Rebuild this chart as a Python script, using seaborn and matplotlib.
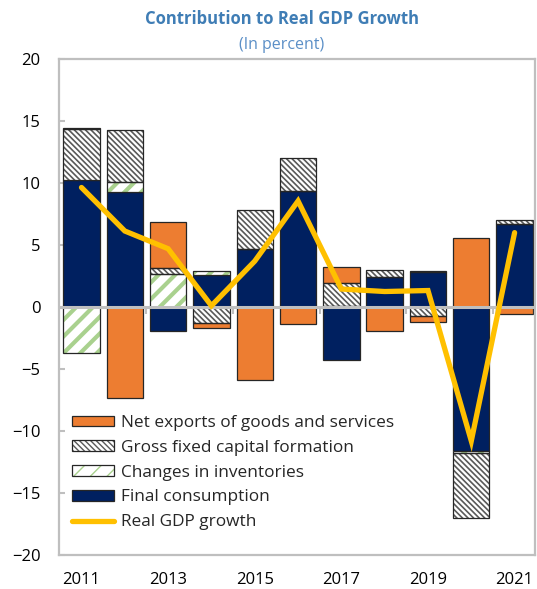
import numpy as np
import matplotlib
matplotlib.use("Agg")
import matplotlib.pyplot as plt
from matplotlib.patches import Patch
from matplotlib.lines import Line2D
import seaborn as sns

# Contributions to real GDP growth, percentage points
years = ["2011", "2012", "2013", "2014", "2015", "2016", "2017", "2018", "2019", "2020", "2021"]
final_consumption = [10.26, 9.29, -1.97, 2.55, 4.70, 9.37, -4.29, 2.40, 2.81, -11.65, 6.72]
inventories = [-3.69, 0.78, 2.67, 0.35, 0.00, 0.00, 0.10, 0.00, 0.08, -0.10, 0.00]
gfcf = [4.10, 4.24, 0.44, -1.30, 3.10, 2.61, 1.82, 0.60, -0.70, -5.25, 0.32]
net_exports = [0.08, -7.31, 3.77, -0.42, -5.91, -1.35, 1.32, -1.97, -0.48, 5.59, -0.60]
real_gdp_growth = [9.64, 6.13, 4.70, 0.10, 3.70, 8.55, 1.45, 1.25, 1.33, -10.80, 6.00]
tick_years = ["2011", "2013", "2015", "2017", "2019", "2021"]

NAVY = "#002060"
ORANGE = "#ED7D31"
GREEN = "#A9D18E"
HATCH_GRAY = "#595959"
GOLD = "#FFC000"
EDGE = "#262626"
FRAME = "#BFBFBF"
TITLE_BLUE = "#3F7DB5"

GFCF_HATCH = "\\" * 6
INV_HATCH = "//"

sns.set_theme(style="white")
plt.rcParams["font.family"] = ["Open Sans", "DejaVu Sans"]

fig = plt.figure(figsize=(5.37, 5.89), dpi=100)
ax = fig.add_axes([0.109, 0.0577, 0.8864, 0.8421])

n = len(years)
pos_base = np.zeros(n)
neg_base = np.zeros(n)

components = [
    ("Final consumption", final_consumption,
     dict(face=NAVY, hatch=None, hcol=EDGE, hlw=1.0)),
    ("Changes in inventories", inventories,
     dict(face="white", hatch=INV_HATCH, hcol=GREEN, hlw=3.0)),
    ("Gross fixed capital formation", gfcf,
     dict(face="white", hatch=GFCF_HATCH, hcol=HATCH_GRAY, hlw=1.2)),
    ("Net exports of goods and services", net_exports,
     dict(face=ORANGE, hatch=None, hcol=EDGE, hlw=1.0)),
]

BAR_W = 0.84
for name, vals, st in components:
    v = np.asarray(vals, dtype=float)
    bottom = np.where(v >= 0, pos_base, neg_base)
    with plt.rc_context({"hatch.linewidth": st["hlw"], "hatch.color": st["hcol"]}):
        sns.barplot(x=years, y=v, bottom=bottom, width=BAR_W, color=st["face"],
                    errorbar=None, ax=ax, zorder=2)
        for b in ax.containers[-1]:
            b.set_facecolor(st["face"])
            if st["hatch"]:
                b.set_hatch(st["hatch"])
                b.set_edgecolor(st["hcol"])
                b.set_linewidth(0)
                if hasattr(b, "set_hatch_linewidth"):
                    b.set_hatch_linewidth(st["hlw"])
            else:
                b.set_edgecolor(EDGE)
                b.set_linewidth(0.9)
    if st["hatch"]:
        # dark outline over the hatched fill
        sns.barplot(x=years, y=v, bottom=bottom, width=BAR_W, fill=False,
                    color=EDGE, errorbar=None, ax=ax, zorder=2.1)
        for b in ax.containers[-1]:
            b.set_facecolor("none")
            b.set_edgecolor(EDGE)
            b.set_linewidth(0.9)
    pos_base = pos_base + np.where(v >= 0, v, 0)
    neg_base = neg_base + np.where(v < 0, v, 0)

# Zero line over the bars
ax.axhline(0, color=FRAME, linewidth=2.2, zorder=3)

# Real GDP growth line
sns.lineplot(x=np.arange(n), y=real_gdp_growth, color=GOLD, linewidth=3.8,
             solid_capstyle="round", solid_joinstyle="miter", sort=False,
             legend=False, ax=ax, zorder=4)

ax.set_xlim(-0.53, 10.46)
ax.set_ylim(-20, 20)
ax.set_yticks(np.arange(-20, 21, 5))
ax.set_xticks([years.index(y) for y in tick_years])
ax.set_xticklabels(tick_years)
ax.set_xlabel("")
ax.set_ylabel("")

for side in ["left", "right", "top", "bottom"]:
    ax.spines[side].set_visible(True)
    ax.spines[side].set_color(FRAME)
    ax.spines[side].set_linewidth(1.6)

ax.tick_params(axis="y", direction="in", length=4, width=1.5, color=FRAME,
               left=True, pad=13, labelsize=12, labelcolor="black")
ax.tick_params(axis="x", length=0, pad=12, labelsize=12, labelcolor="black")

# Separator ticks on the zero line, every two years
zero_axis = ax.secondary_xaxis(0.5)
zero_axis.set_xticks([1.5, 3.5, 5.5, 7.5, 9.5])
zero_axis.tick_params(direction="in", length=5, width=1.5, color=FRAME,
                      labelbottom=False, labeltop=False)
for s in zero_axis.spines:
    zero_axis.spines[s].set_visible(False)
zero_axis.set_zorder(3)

# Legend
handles = [
    Patch(facecolor=ORANGE, edgecolor=EDGE, linewidth=0.9),
    (Patch(facecolor="white", edgecolor=HATCH_GRAY, hatch=GFCF_HATCH, linewidth=0),
     Patch(facecolor="none", edgecolor=EDGE, linewidth=0.9)),
    (Patch(facecolor="white", edgecolor=GREEN, hatch=INV_HATCH, linewidth=0),
     Patch(facecolor="none", edgecolor=EDGE, linewidth=0.9)),
    Patch(facecolor=NAVY, edgecolor=EDGE, linewidth=0.9),
    Line2D([], [], color=GOLD, linewidth=3.8, solid_capstyle="round"),
]
labels = ["Net exports of goods and services", "Gross fixed capital formation",
          "Changes in inventories", "Final consumption", "Real GDP growth"]
leg = ax.legend(handles, labels, loc="center left", bbox_to_anchor=(0.028, 0.166),
                frameon=False, fontsize=12.4, handlelength=2.45, handleheight=0.58,
                handletextpad=0.39, labelspacing=0.51, borderpad=0, borderaxespad=0)
leg.set_zorder(5)

fig.text(0.525, 0.968, "Contribution to Real GDP Growth", ha="center", va="center",
         fontsize=12, fontweight="bold", color=TITLE_BLUE)
fig.text(0.525, 0.9236, "(In percent)", ha="center", va="center",
         fontsize=11.5, color="#5B8FC7")

fig.savefig("out.png", dpi=100)
